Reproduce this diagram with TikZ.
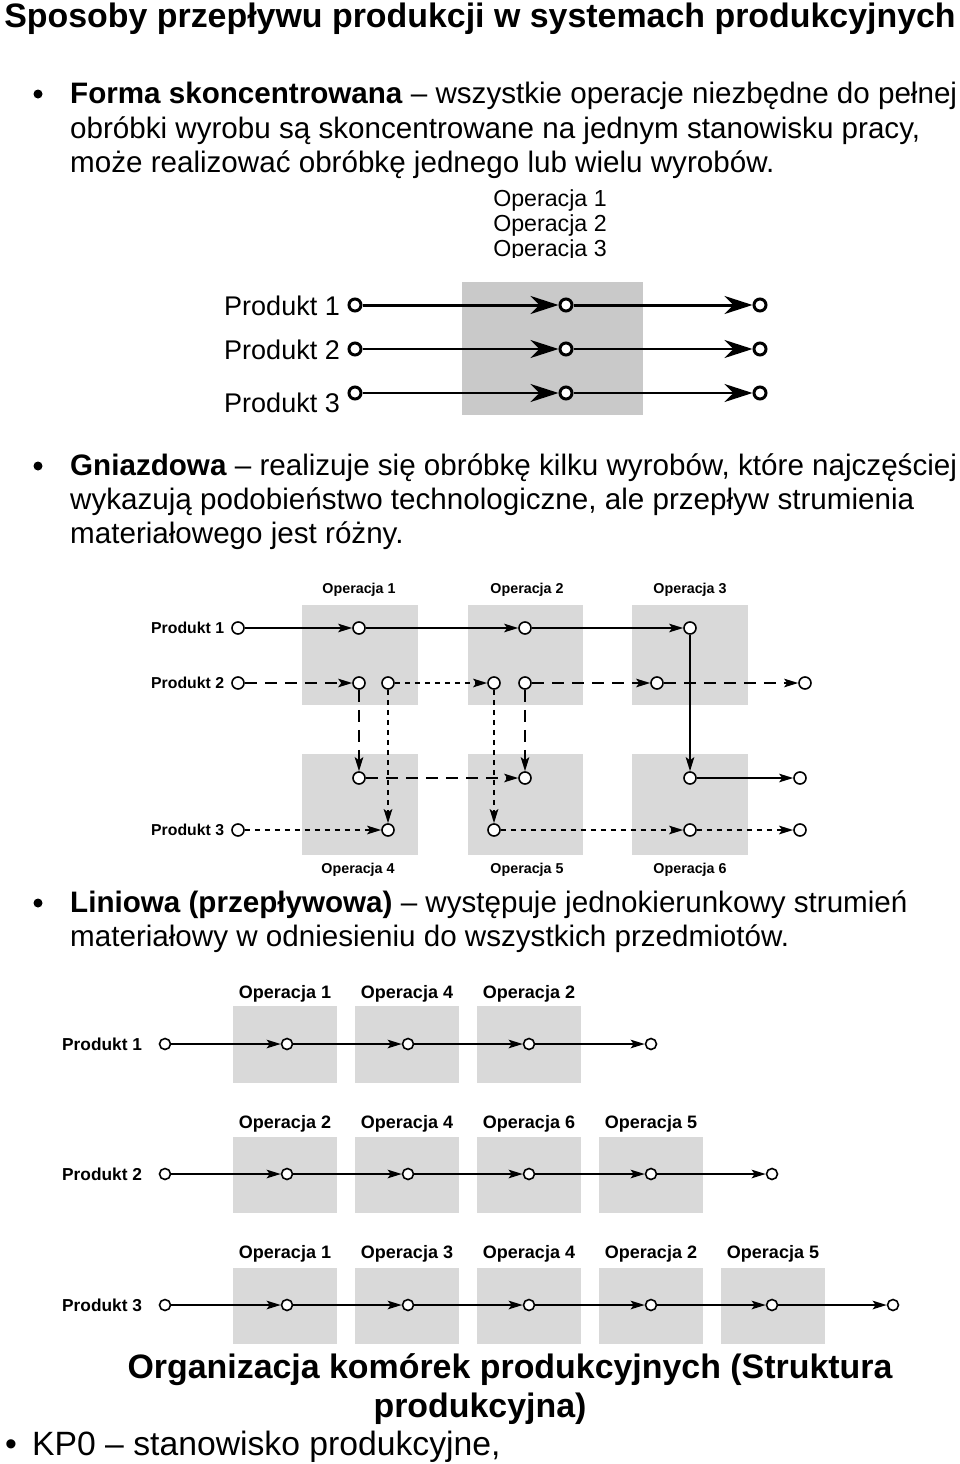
\documentclass[tikz,border=0pt]{standalone}
\usepackage{fontspec}
\setmainfont{Liberation Sans}
\usetikzlibrary{arrows.meta}
\newcommand\fsz[2]{\fontsize{#1pt}{#2pt}\selectfont}
\definecolor{boxA}{HTML}{C9C9C9}
\definecolor{boxB}{HTML}{D9D9D9}
\begin{document}
\begin{tikzpicture}[x=1pt,y=-1pt,
  txt/.style={inner sep=0pt, anchor=base west},
  body/.style={txt, font=\fsz{29.6}{34.5}},
  bigtitle/.style={inner sep=0pt, anchor=base, font=\bfseries\fsz{33.9}{39}},
  bull/.style={circle, fill=black, inner sep=0pt, minimum size=9pt},
  % top diagram
  topop/.style={inner sep=0pt, anchor=base, font=\fsz{23.2}{25}},
  topprod/.style={inner sep=0pt, anchor=base east, font=\fsz{27}{30}},
  tc/.style={circle, draw, line width=3pt, fill=white, inner sep=0pt, minimum size=12pt},
  tarr/.style={line width=2pt, -{Stealth[length=28pt,width=18pt,inset=9pt]}},
  % middle diagram
  midop/.style={inner sep=0pt, anchor=center, font=\bfseries\fsz{14.3}{16}},
  midprod/.style={inner sep=0pt, anchor=west, font=\bfseries\fsz{15.8}{18}},
  mc/.style={circle, draw, line width=1.6pt, fill=white, inner sep=0pt, minimum size=12pt},
  marr/.style={line width=2pt, -{Stealth[length=14pt,width=8.5pt,inset=3pt]}},
  longd/.style={dash pattern=on 12pt off 8pt},
  shortd/.style={line width=2.4pt, dash pattern=on 5pt off 5pt},
  % bottom diagram
  botop/.style={inner sep=0pt, anchor=center, font=\bfseries\fsz{18}{20}},
  botprod/.style={inner sep=0pt, anchor=west, font=\bfseries\fsz{17.3}{19}},
  bc/.style={circle, draw, line width=1.6pt, fill=white, inner sep=0pt, minimum size=11pt},
  barr/.style={line width=2pt, -{Stealth[length=14pt,width=8.5pt,inset=3pt]}},
]
\useasboundingbox (0,0) rectangle (960,1464);
\fill[white] (0,0) rectangle (960,1464);

% ---------------- texts ----------------
\node[bigtitle] (title) at (480,28) {Sposoby przepływu produkcji w systemach produkcyjnych};

\node[bull] (b1) at (38,94) {};
\node[body] (f1) at (70,103.5) {\textbf{Forma skoncentrowana} – wszystkie operacje niezbędne do pełnej};
\node[body] (f2) at (70,138) {obróbki wyrobu są skoncentrowane na jednym stanowisku pracy,};
\node[body] (f3) at (70,172.5) {może realizować obróbkę jednego lub wielu wyrobów.};

\node[bull] (b2) at (38,466) {};
\node[body] (g1) at (70,475.5) {\textbf{Gniazdowa} – realizuje się obróbkę kilku wyrobów, które najczęściej};
\node[body] (g2) at (70,509.5) {wykazują podobieństwo technologiczne, ale przepływ strumienia};
\node[body] (g3) at (70,543.5) {materiałowego jest różny.};

\node[bull] (b3) at (38,903) {};
\node[body] (l1) at (70,912.5) {\textbf{Liniowa (przepływowa)} – występuje jednokierunkowy strumień};
\node[body] (l2) at (70,946.5) {materiałowy w odniesieniu do wszystkich przedmiotów.};

\node[bigtitle] (o1) at (510,1378) {Organizacja komórek produkcyjnych (Struktura};
\node[bigtitle] (o2) at (480,1417) {produkcyjna)};
\node[txt, font=\fsz{33.7}{39}] (k1) at (5,1455) {•};
\node[txt, font=\fsz{33.7}{39}] (k2) at (32,1455) {KP0 – stanowisko produkcyjne,};

% ---------------- top diagram ----------------
\fill[boxA] (462,282) rectangle (643,415);
\node[topop] (top1) at (550,206) {Operacja 1};
\node[topop] (top2) at (550,231) {Operacja 2};
\begin{scope}
  \clip (470,235) rectangle (630,257.5);
  \node[topop] (top3) at (550,256) {Operacja 3};
\end{scope}
\node[topprod] (tp1) at (340,315) {Produkt 1};
\node[topprod] (tp2) at (340,359) {Produkt 2};
\node[topprod] (tp3) at (340,412) {Produkt 3};

\node[tc] (t1a) at (355,305) {};
\node[tc] (t1b) at (566,305) {};
\node[tc] (t1c) at (760,305) {};
\node[tc] (t2a) at (355,349) {};
\node[tc] (t2b) at (566,349) {};
\node[tc] (t2c) at (760,349) {};
\node[tc] (t3a) at (355,393) {};
\node[tc] (t3b) at (566,393) {};
\node[tc] (t3c) at (760,393) {};
\draw[tarr, line width=3pt] (t1a) -- (t1b);
\draw[tarr, line width=3pt] (t1b) -- (t1c);
\draw[tarr] (t2a) -- (t2b);
\draw[tarr] (t2b) -- (t2c);
\draw[tarr] (t3a) -- (t3b);
\draw[tarr] (t3b) -- (t3c);

% ---------------- middle diagram ----------------
\fill[boxB] (302,605) rectangle (418,705);
\fill[boxB] (468,605) rectangle (583,705);
\fill[boxB] (632,605) rectangle (748,705);
\fill[boxB] (302,754) rectangle (418,855);
\fill[boxB] (468,754) rectangle (583,855);
\fill[boxB] (632,754) rectangle (748,855);
\node[midop] (mo1) at (359,590) {Operacja 1};
\node[midop] (mo2) at (527,590) {Operacja 2};
\node[midop] (mo3) at (690,590) {Operacja 3};
\node[midop] (mo4) at (358,870) {Operacja 4};
\node[midop] (mo5) at (527,870) {Operacja 5};
\node[midop] (mo6) at (690,870) {Operacja 6};
\node[midprod] (mp1) at (151,628) {Produkt 1};
\node[midprod] (mp2) at (151,683) {Produkt 2};
\node[midprod] (mp3) at (151,830) {Produkt 3};

\node[mc] (m1s) at (238,628) {};
\node[mc] (m1a) at (359,628) {};
\node[mc] (m1b) at (525,628) {};
\node[mc] (m1c) at (690,628) {};
\node[mc] (m2s) at (238,683) {};
\node[mc] (m2a) at (359,683) {};
\node[mc] (m2b) at (388,683) {};
\node[mc] (m2c) at (494,683) {};
\node[mc] (m2d) at (525,683) {};
\node[mc] (m2e) at (657,683) {};
\node[mc] (m2f) at (805,683) {};
\node[mc] (m4a) at (359,778) {};
\node[mc] (m5a) at (525,778) {};
\node[mc] (m6a) at (690,778) {};
\node[mc] (m6e) at (800,778) {};
\node[mc] (m3s) at (238,830) {};
\node[mc] (m4b) at (388,830) {};
\node[mc] (m5b) at (494,830) {};
\node[mc] (m6b) at (690,830) {};
\node[mc] (m6f) at (800,830) {};

\draw[marr] (m1s) -- (m1a);
\draw[marr] (m1a) -- (m1b);
\draw[marr] (m1b) -- (m1c);
\draw[marr] (m1c) -- (m6a);
\draw[marr] (m6a) -- (m6e);
\draw[marr, longd] (m2s) -- (m2a);
\draw[marr, shortd] (m2b) -- (m2c);
\draw[marr, longd] (m2d) -- (m2e);
\draw[marr, longd] (m2e) -- (m2f);
\draw[marr, longd] (m2a) -- (m4a);
\draw[marr, shortd] (m2b) -- (m4b);
\draw[marr, shortd] (m2c) -- (m5b);
\draw[marr, longd] (m2d) -- (m5a);
\draw[marr, longd] (m4a) -- (m5a);
\draw[marr, shortd] (m3s) -- (m4b);
\draw[marr, shortd] (m5b) -- (m6b);
\draw[marr, shortd] (m6b) -- (m6f);

% ---------------- bottom diagram ----------------
% row 1
\foreach \x in {233,355,477} \fill[boxB] (\x,1006) rectangle ++(104,77);
\node[botop] (r1o1) at (285,994) {Operacja 1};
\node[botop] (r1o2) at (407,994) {Operacja 4};
\node[botop] (r1o3) at (529,994) {Operacja 2};
\node[botprod] (r1p) at (62,1044) {Produkt 1};
\foreach \i/\x in {0/165,1/287,2/408,3/529,4/651} \node[bc] (r1c\i) at (\x,1044) {};
\foreach \i/\j in {0/1,1/2,2/3,3/4} \draw[barr] (r1c\i) -- (r1c\j);
% row 2
\foreach \x in {233,355,477,599} \fill[boxB] (\x,1137) rectangle ++(104,76);
\node[botop] (r2o1) at (285,1124) {Operacja 2};
\node[botop] (r2o2) at (407,1124) {Operacja 4};
\node[botop] (r2o3) at (529,1124) {Operacja 6};
\node[botop] (r2o4) at (651,1124) {Operacja 5};
\node[botprod] (r2p) at (62,1174) {Produkt 2};
\foreach \i/\x in {0/165,1/287,2/408,3/529,4/651,5/772} \node[bc] (r2c\i) at (\x,1174) {};
\foreach \i/\j in {0/1,1/2,2/3,3/4,4/5} \draw[barr] (r2c\i) -- (r2c\j);
% row 3
\foreach \x in {233,355,477,599,721} \fill[boxB] (\x,1268) rectangle ++(104,76);
\node[botop] (r3o1) at (285,1254) {Operacja 1};
\node[botop] (r3o2) at (407,1254) {Operacja 3};
\node[botop] (r3o3) at (529,1254) {Operacja 4};
\node[botop] (r3o4) at (651,1254) {Operacja 2};
\node[botop] (r3o5) at (773,1254) {Operacja 5};
\node[botprod] (r3p) at (62,1305) {Produkt 3};
\foreach \i/\x in {0/165,1/287,2/408,3/529,4/651,5/772,6/893} \node[bc] (r3c\i) at (\x,1305) {};
\foreach \i/\j in {0/1,1/2,2/3,3/4,4/5,5/6} \draw[barr] (r3c\i) -- (r3c\j);
\end{tikzpicture}
\end{document}
